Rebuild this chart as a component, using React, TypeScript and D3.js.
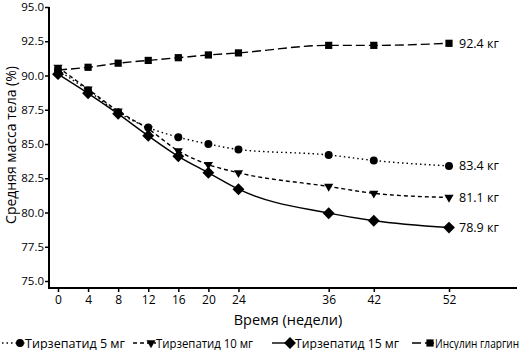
import { useEffect, useRef } from 'react';
import * as d3 from 'd3';

// weeks on the x axis
const weeks = [0, 4, 8, 12, 16, 20, 24, 36, 42, 52];

const tirz5 = [90.4, 88.9, 87.3, 86.2, 85.5, 85.0, 84.6, 84.2, 83.8, 83.4];
const tirz10 = [90.6, 89.0, 87.4, 86.1, 84.5, 83.5, 82.9, 81.9, 81.4, 81.1];
const tirz15 = [90.1, 88.7, 87.2, 85.6, 84.1, 82.9, 81.7, 79.95, 79.4, 78.9];
const glargine = [90.4, 90.6, 90.9, 91.1, 91.3, 91.5, 91.65, 92.2, 92.2, 92.35];

const seriesNames = ['Тирзепатид 5 мг', 'Тирзепатид 10 мг', 'Тирзепатид 15 мг', 'Инсулин гларгин'];
const endLabels = ['83.4 кг', '81.1 кг', '78.9 кг', '92.4 кг'];
const yTicks = [75, 77.5, 80, 82.5, 85, 87.5, 90, 92.5, 95];

const FONT = "'Open Sans', 'Noto Sans', sans-serif";

const App = () => {
  const svgRef = useRef<SVGSVGElement>(null);

  useEffect(() => {
    const svg = d3.select(svgRef.current);
    svg.selectAll('*').remove();

    const x = d3.scaleLinear().domain([0, 52]).range([58, 449]);
    const y = d3.scaleLinear().domain([75, 95]).range([281, 7]);

    const series = [
      { name: seriesNames[0], values: tirz5, dash: '1.5,3', shape: 'circle', label: endLabels[0] },
      { name: seriesNames[1], values: tirz10, dash: '4,3', shape: 'triangle', label: endLabels[1] },
      { name: seriesNames[2], values: tirz15, dash: null, shape: 'diamond', label: endLabels[2] },
      { name: seriesNames[3], values: glargine, dash: '9,4', shape: 'square', label: endLabels[3] },
    ];

    const symbolFor = (shape: string) => {
      if (shape === 'circle') return d3.symbol(d3.symbolCircle, 50);
      if (shape === 'square') return d3.symbol(d3.symbolSquare, 52);
      if (shape === 'diamond') return d3.symbol(d3.symbolDiamond2, 90);
      return d3.symbol(d3.symbolTriangle2, 60);
    };
    const rot = (shape: string) => (shape === 'triangle' ? ' rotate(180)' : '');

    // axes
    const axisY = d3.axisLeft(y).tickValues(yTicks).tickSize(4).tickFormat(d3.format('.1f'));
    const gy = svg.append('g').attr('transform', 'translate(49,0)').call(axisY);
    gy.select('.domain').attr('d', 'M0,7V288').attr('stroke', '#000').attr('stroke-width', 2);
    gy.selectAll('.tick line').attr('stroke', '#000').attr('stroke-width', 1.5);
    gy.selectAll('.tick text')
      .attr('font-family', FONT)
      .attr('font-size', 11.5)
      .attr('fill', '#000')
      .attr('x', -5);

    const axisX = d3.axisBottom(x).tickValues(weeks).tickSize(4).tickFormat(d3.format('d'));
    const gx = svg.append('g').attr('transform', 'translate(0,288)').call(axisX);
    gx.select('.domain').attr('d', 'M48,0H517').attr('stroke', '#000').attr('stroke-width', 2);
    gx.selectAll('.tick line').attr('stroke', '#000').attr('stroke-width', 1.5);
    gx.selectAll('.tick text')
      .attr('font-family', FONT)
      .attr('font-size', 12)
      .attr('fill', '#000')
      .attr('y', 7);

    svg.append('text')
      .attr('x', 288)
      .attr('y', 325)
      .attr('text-anchor', 'middle')
      .attr('font-family', FONT)
      .attr('font-size', 14.5)
      .text('Время (недели)');

    svg.append('text')
      .attr('transform', 'translate(16,145) rotate(-90)')
      .attr('text-anchor', 'middle')
      .attr('font-family', FONT)
      .attr('font-size', 14)
      .text('Средняя масса тела (%)');

    const line = d3.line<number>()
      .x((_, i) => x(weeks[i]))
      .y((d) => y(d))
      .curve(d3.curveMonotoneX);

    series.forEach((s) => {
      const g = svg.append('g');
      g.append('path')
        .attr('d', line(s.values))
        .attr('fill', 'none')
        .attr('stroke', '#000')
        .attr('stroke-width', 1.4)
        .attr('stroke-dasharray', s.dash);
      g.selectAll('path.pt')
        .data(s.values)
        .enter()
        .append('path')
        .attr('class', 'pt')
        .attr('d', symbolFor(s.shape))
        .attr('transform', (d, i) => `translate(${x(weeks[i])},${y(d)})${rot(s.shape)}`)
        .attr('fill', '#000');
      const last = s.values[s.values.length - 1];
      g.append('text')
        .attr('x', x(52) + 10)
        .attr('y', y(last) + 4.5)
        .attr('font-family', FONT)
        .attr('font-size', 12.5)
        .text(s.label);
    });

    // legend: the source uses a condensed face, so squeeze each label to its width
    const legendX = [20, 151, 290, 430];
    const legendW = [100, 97, 104, 84];
    const legend = svg.append('g').attr('transform', 'translate(0,343)');
    series.forEach((s, i) => {
      const cx = legendX[i];
      legend.append('line')
        .attr('x1', cx - 18)
        .attr('x2', cx + 5)
        .attr('y1', 0)
        .attr('y2', 0)
        .attr('stroke', '#000')
        .attr('stroke-width', 1.4)
        .attr('stroke-dasharray', s.dash);
      legend.append('path')
        .attr('d', symbolFor(s.shape))
        .attr('transform', `translate(${cx},0)${rot(s.shape)}`)
        .attr('fill', '#000');
      legend.append('text')
        .attr('x', cx + 5)
        .attr('y', 4.5)
        .attr('font-family', FONT)
        .attr('font-size', 12.5)
        .attr('textLength', legendW[i])
        .attr('lengthAdjust', 'spacingAndGlyphs')
        .text(s.name);
    });
  }, []);

  return (
    <svg
      ref={svgRef}
      width={520}
      height={350}
      style={{ position: 'absolute', left: 0, top: 0, background: '#fff' }}
    />
  );
};

export default App;
